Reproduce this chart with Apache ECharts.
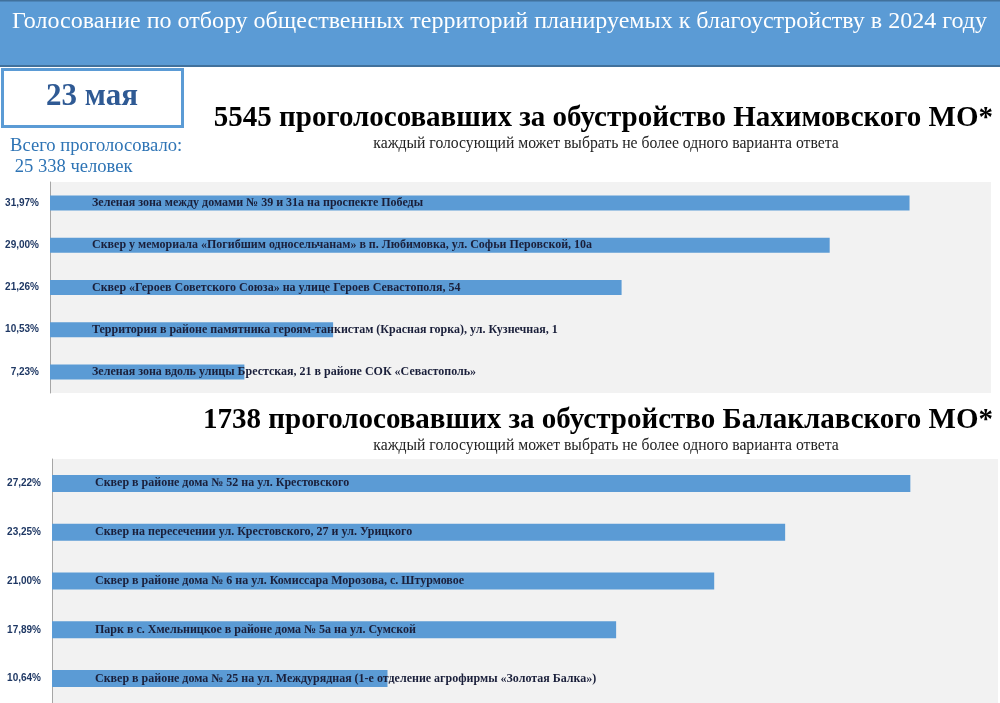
<!DOCTYPE html>
<html><head><meta charset="utf-8">
<script src="https://cdn.jsdelivr.net/npm/echarts@6/dist/echarts.min.js"></script>
<style>html,body{margin:0;padding:0;background:#fff}#c{width:1000px;height:703px}</style>
</head><body><div id="c"></div>
<script>
const headerTitle = 'Голосование по отбору общественных территорий планируемых к благоустройству в 2024 году';
const dateText = '23 мая';
const totalText1 = 'Всего проголосовало:';
const totalText2 = ' 25 338 человек';
const headingN = '5545 проголосовавших за обустройство Нахимовского МО*';
const headingB = '1738 проголосовавших за обустройство Балаклавского МО*';
const subText = 'каждый голосующий может выбрать не более одного варианта ответа';

const namesN = [
  'Зеленая зона между домами № 39 и 31а на проспекте Победы',
  'Сквер у мемориала «Погибшим односельчанам» в п. Любимовка, ул. Софьи Перовской, 10а',
  'Сквер «Героев Советского Союза» на улице Героев Севастополя, 54',
  'Территория в районе памятника героям-танкистам (Красная горка), ул. Кузнечная, 1',
  'Зеленая зона вдоль улицы Брестская, 21 в районе СОК «Севастополь»'
];
const valuesN = [31.97, 29.00, 21.26, 10.53, 7.23];

const namesB = [
  'Сквер в районе дома № 52 на ул. Крестовского',
  'Сквер на пересечении ул. Крестовского, 27 и ул. Урицкого',
  'Сквер в районе дома № 6 на ул. Комиссара Морозова, с. Штурмовое',
  'Парк в с. Хмельницкое в районе дома № 5а на ул. Сумской',
  'Сквер в районе дома № 25 на ул. Междурядная (1-е отделение агрофирмы «Золотая Балка»)'
];
const valuesB = [27.22, 23.25, 21.00, 17.89, 10.64];

const pct = v => v.toFixed(2).replace('.', ',') + '%';
const SERIF = '"Liberation Serif","Times New Roman",serif';
const BLUE = '#5b9bd5';

function yAx(gi, vals) {
  return {
    type: 'category', gridIndex: gi, inverse: true,
    data: vals.map(pct),
    axisLine: { show: true, lineStyle: { color: '#a6a6a6', width: 1 } },
    axisTick: { show: false },
    axisLabel: { margin: 11, fontFamily: '"Liberation Sans",Arial,sans-serif', fontWeight: 'bold', fontSize: 10, color: '#1f3864' }
  };
}
function xAx(gi, max) {
  return { type: 'value', gridIndex: gi, min: 0, max: max, show: false, splitLine: { show: false } };
}
function ser(gi, vals, names, off) {
  return {
    type: 'bar', xAxisIndex: gi, yAxisIndex: gi,
    data: vals.map((v, i) => ({ value: v, name: names[i] })),
    barWidth: gi === 0 ? 15 : 17,
    itemStyle: { color: BLUE },
    silent: true,
    label: {
      show: true, position: [off, '50%'], verticalAlign: 'middle', align: 'left',
      formatter: p => p.name,
      fontFamily: SERIF, fontWeight: 'bold', fontSize: 12, color: '#1a1f3a'
    }
  };
}

const chart = echarts.init(document.getElementById('c'), null, { renderer: 'canvas' });
chart.setOption({
  animation: false,
  backgroundColor: '#ffffff',
  grid: [
    { left: 50, right: 9, top: 182, height: 211, show: true, backgroundColor: '#f2f2f2', borderWidth: 0 },
    { left: 52, right: 2, top: 459, height: 244, show: true, backgroundColor: '#f2f2f2', borderWidth: 0 }
  ],
  xAxis: [xAx(0, 35), xAx(1, 30)],
  yAxis: [yAx(0, valuesN), yAx(1, valuesB)],
  series: [ser(0, valuesN, namesN, 42), ser(1, valuesB, namesB, 43)],
  graphic: [
    { type: 'rect', shape: { x: 0, y: 0, width: 1000, height: 66 }, style: { fill: BLUE }, z: 0 },
    { type: 'rect', shape: { x: 0, y: 65, width: 1000, height: 2 }, style: { fill: '#41719c' }, z: 1 },
    { type: 'rect', shape: { x: 0, y: 0, width: 1000, height: 1.5 }, style: { fill: '#41719c' }, z: 1 },
    { type: 'text', style: { x: 12, y: 22, text: headerTitle, verticalAlign: 'middle', fill: '#ffffff', font: '24px ' + SERIF }, z: 2 },
    { type: 'rect', shape: { x: 2.5, y: 69.5, width: 180, height: 57 }, style: { fill: '#ffffff', stroke: BLUE, lineWidth: 3 }, z: 2 },
    { type: 'text', style: { x: 92, y: 97, text: dateText, align: 'center', verticalAlign: 'middle', fill: '#2f5a94', font: 'bold 31px ' + SERIF }, z: 3 },
    { type: 'text', style: { x: 10, y: 146, text: totalText1, verticalAlign: 'middle', fill: '#2e74b5', font: '18.6px ' + SERIF }, z: 3 },
    { type: 'text', style: { x: 10, y: 167, text: totalText2, verticalAlign: 'middle', fill: '#2e74b5', font: '18.6px ' + SERIF }, z: 3 },
    { type: 'text', style: { x: 993, y: 119, text: headingN, align: 'right', verticalAlign: 'middle', fill: '#000000', font: 'bold 29px ' + SERIF }, z: 3 },
    { type: 'text', style: { x: 606, y: 144, text: subText, align: 'center', verticalAlign: 'middle', fill: '#222222', font: '15.7px ' + SERIF }, z: 3 },
    { type: 'text', style: { x: 993, y: 421, text: headingB, align: 'right', verticalAlign: 'middle', fill: '#000000', font: 'bold 29px ' + SERIF }, z: 3 },
    { type: 'text', style: { x: 606, y: 446, text: subText, align: 'center', verticalAlign: 'middle', fill: '#222222', font: '15.7px ' + SERIF }, z: 3 }
  ]
});
</script></body></html>
